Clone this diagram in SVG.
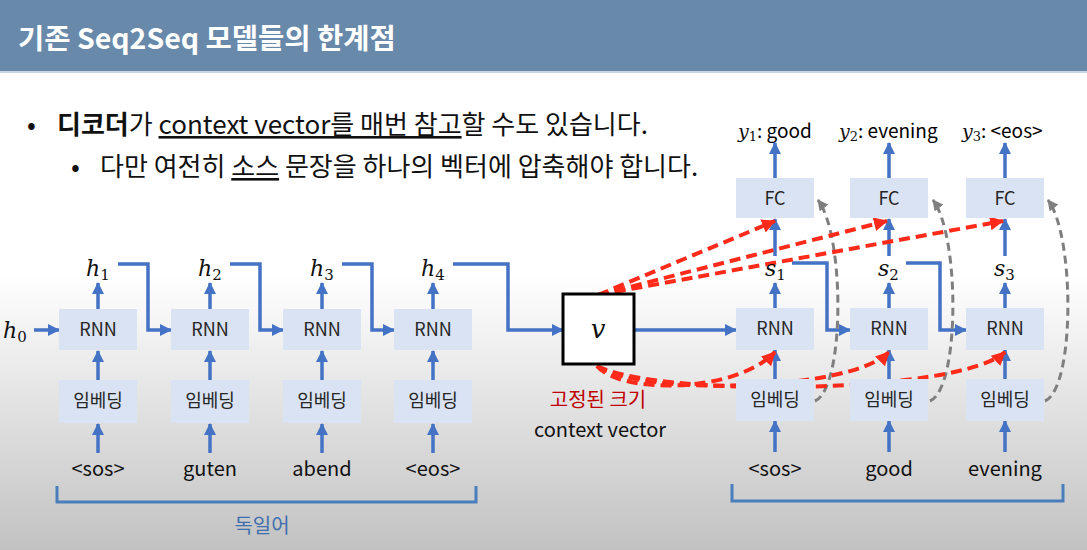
<svg xmlns="http://www.w3.org/2000/svg" width="1087" height="550" viewBox="0 0 1087 550">
<defs>
<linearGradient id="bg" x1="0" y1="0" x2="0" y2="550" gradientUnits="userSpaceOnUse">
<stop offset="0" stop-color="#ffffff"/>
<stop offset="0.5" stop-color="#ffffff"/>
<stop offset="1" stop-color="#c2c2c2"/>
</linearGradient>
<marker id="ab" markerUnits="userSpaceOnUse" markerWidth="12" markerHeight="12" refX="11" refY="6" orient="auto"><path d="M0,0 L12,6 L0,12 z" fill="#4472c4"/></marker>
<marker id="ar" markerUnits="userSpaceOnUse" markerWidth="14" markerHeight="14" refX="13" refY="7" orient="auto"><path d="M0,0 L14,7 L0,14 z" fill="#ff2a1a"/></marker>
<marker id="ag" markerUnits="userSpaceOnUse" markerWidth="11" markerHeight="11" refX="10" refY="5.5" orient="auto"><path d="M0,0 L11,5.5 L0,11 z" fill="#7f7f7f"/></marker>
<style>
.k{font-family:"Noto Sans CJK KR","Noto Sans",sans-serif}
.box{fill:#dae3f3}
.bt{font-family:"Noto Sans CJK KR","Noto Sans",sans-serif;font-size:18px;fill:#262626;text-anchor:middle}
.in{font-family:"Noto Sans CJK KR","Noto Sans",sans-serif;font-size:20px;fill:#111;text-anchor:middle}
.m{font-family:"DejaVu Serif","Liberation Serif",serif;font-style:italic;fill:#111}
.sub{font-family:"DejaVu Serif","Liberation Serif",serif;font-style:normal;fill:#111}
.ba{stroke:#4472c4;stroke-width:3.5;fill:none;marker-end:url(#ab)}
.rd{stroke:#ff2a1a;stroke-width:4;fill:none;stroke-dasharray:11 6;marker-end:url(#ar)}
.gd{stroke:#7f7f7f;stroke-width:3;fill:none;stroke-dasharray:8 5;marker-end:url(#ag)}
.br{stroke:#4a7ebb;stroke-width:3;fill:none}
</style>
</defs>
<rect x="0" y="0" width="1087" height="550" fill="url(#bg)"/>
<g id="title">
<rect x="0" y="0" width="1087" height="71" fill="#6889aa"/>
<rect x="0" y="71" width="1087" height="2" fill="#c8d5e4"/>
<text x="18" y="49" class="k" font-size="28.5" font-weight="bold" fill="#ffffff">기존 Seq2Seq 모델들의 한계점</text>
</g>
<g id="bullets" class="k" font-size="26" fill="#111">
<text x="27" y="134">•</text>
<text x="57" y="134"><tspan font-weight="bold">디코더</tspan>가 <tspan text-decoration="underline">context vector를 매번 참고</tspan>할 수도 있습니다.</text>
<text x="71" y="176">•</text>
<text x="100" y="176">다만 여전히 <tspan text-decoration="underline">소스</tspan> 문장을 하나의 벡터에 압축해야 합니다.</text>
</g>
<g id="connectors">
<line class="ba" x1="34" y1="330" x2="59" y2="330"/>
<line class="ba" x1="98" y1="453" x2="98" y2="424"/>
<line class="ba" x1="210" y1="453" x2="210" y2="424"/>
<line class="ba" x1="322" y1="453" x2="322" y2="424"/>
<line class="ba" x1="433" y1="453" x2="433" y2="424"/>
<line class="ba" x1="98" y1="380" x2="98" y2="351"/>
<line class="ba" x1="210" y1="380" x2="210" y2="351"/>
<line class="ba" x1="322" y1="380" x2="322" y2="351"/>
<line class="ba" x1="433" y1="380" x2="433" y2="351"/>
<line class="ba" x1="98" y1="309" x2="98" y2="283"/>
<line class="ba" x1="210" y1="309" x2="210" y2="283"/>
<line class="ba" x1="322" y1="309" x2="322" y2="283"/>
<line class="ba" x1="433" y1="309" x2="433" y2="283"/>
<polyline class="ba" points="118,264 148,264 148,330 171,330"/>
<polyline class="ba" points="230,264 260,264 260,330 283,330"/>
<polyline class="ba" points="342,264 372,264 372,330 394,330"/>
<polyline class="ba" points="453,264 508,264 508,330 563,330"/>
<line class="ba" x1="634" y1="330" x2="736" y2="330"/>
<line class="ba" x1="775" y1="452" x2="775" y2="421"/>
<line class="ba" x1="889" y1="452" x2="889" y2="421"/>
<line class="ba" x1="1005" y1="452" x2="1005" y2="421"/>
<line class="ba" x1="775" y1="379" x2="775" y2="350"/>
<line class="ba" x1="889" y1="379" x2="889" y2="350"/>
<line class="ba" x1="1005" y1="379" x2="1005" y2="350"/>
<line class="ba" x1="775" y1="308" x2="775" y2="283"/>
<line class="ba" x1="889" y1="308" x2="889" y2="283"/>
<line class="ba" x1="1005" y1="308" x2="1005" y2="283"/>
<line class="ba" x1="775" y1="256" x2="775" y2="219"/>
<line class="ba" x1="889" y1="256" x2="889" y2="219"/>
<line class="ba" x1="1005" y1="256" x2="1005" y2="219"/>
<line class="ba" x1="775" y1="178" x2="775" y2="143"/>
<line class="ba" x1="889" y1="178" x2="889" y2="143"/>
<line class="ba" x1="1005" y1="178" x2="1005" y2="143"/>
<polyline class="ba" points="792,263 827,263 827,330 850,330"/>
<polyline class="ba" points="906,263 940,263 940,330 966,330"/>
<path class="gd" d="M815,401 C845,388 845,236 818,200"/>
<path class="gd" d="M930,401 C960,388 960,236 933,200"/>
<path class="gd" d="M1045,401 C1075,388 1075,236 1048,200"/>
<line class="rd" x1="598" y1="295" x2="775" y2="221"/>
<line class="rd" x1="598" y1="295" x2="887" y2="221"/>
<line class="rd" x1="598" y1="295" x2="1003" y2="221"/>
<path class="rd" d="M597,366 C620,394 735,394 775,352"/>
<path class="rd" d="M597,366 C640,396 850,392 889,352"/>
<path class="rd" d="M597,366 C660,398 960,394 1005,352"/>
</g>
<g id="h0"><text x="3" y="338" class="m" font-size="22">h<tspan class="sub" font-size="15" dy="4">0</tspan></text></g>
<g id="enc1">
<text x="86" y="276" class="m" font-size="22">h<tspan class="sub" font-size="15" dy="4">1</tspan></text>
<rect class="box" x="59" y="309" width="78" height="41"/><text class="bt" x="98" y="336">RNN</text>
<rect class="box" x="59" y="380" width="78" height="43"/><text class="bt" x="98" y="407">임베딩</text>
<text class="in" x="98" y="476">&lt;sos&gt;</text>
</g>
<g id="enc2">
<text x="198" y="276" class="m" font-size="22">h<tspan class="sub" font-size="15" dy="4">2</tspan></text>
<rect class="box" x="171" y="309" width="78" height="41"/><text class="bt" x="210" y="336">RNN</text>
<rect class="box" x="171" y="380" width="78" height="43"/><text class="bt" x="210" y="407">임베딩</text>
<text class="in" x="210" y="476">guten</text>
</g>
<g id="enc3">
<text x="310" y="276" class="m" font-size="22">h<tspan class="sub" font-size="15" dy="4">3</tspan></text>
<rect class="box" x="283" y="309" width="78" height="41"/><text class="bt" x="322" y="336">RNN</text>
<rect class="box" x="283" y="380" width="78" height="43"/><text class="bt" x="322" y="407">임베딩</text>
<text class="in" x="322" y="476">abend</text>
</g>
<g id="enc4">
<text x="421" y="276" class="m" font-size="22">h<tspan class="sub" font-size="15" dy="4">4</tspan></text>
<rect class="box" x="394" y="309" width="78" height="41"/><text class="bt" x="433" y="336">RNN</text>
<rect class="box" x="394" y="380" width="78" height="43"/><text class="bt" x="433" y="407">임베딩</text>
<text class="in" x="433" y="476">&lt;eos&gt;</text>
</g>
<g id="enc-bracket">
<polyline class="br" points="57,486 57,502 476,502 476,486"/>
<text x="262" y="533" class="k" font-size="20" fill="#3f6fae" text-anchor="middle">독일어</text>
</g>
<g id="context">
<rect x="563" y="294" width="71" height="70" fill="#ffffff" stroke="#000" stroke-width="3"/>
<text x="598" y="338" class="m" font-size="26" text-anchor="middle">v</text>
<text x="598" y="407" class="k" font-size="20" fill="#c00000" text-anchor="middle">고정된 크기</text>
<text x="600" y="437" class="k" font-size="20" fill="#111" text-anchor="middle">context vector</text>
</g>
<g id="dec1">
<text x="738" y="138"><tspan class="m" font-size="19">y</tspan><tspan class="sub" font-size="13" dy="3">1</tspan><tspan class="k" font-size="19" dy="-3">: good</tspan></text>
<rect class="box" x="736" y="178" width="78" height="40"/><text class="bt" x="775" y="205">FC</text>
<text x="765" y="276" class="m" font-size="22">s<tspan class="sub" font-size="15" dy="4">1</tspan></text>
<rect class="box" x="736" y="308" width="78" height="42"/><text class="bt" x="775" y="335">RNN</text>
<rect class="box" x="736" y="379" width="78" height="42"/><text class="bt" x="775" y="406">임베딩</text>
<text class="in" x="775" y="476">&lt;sos&gt;</text>
</g>
<g id="dec2">
<text x="839" y="138"><tspan class="m" font-size="19">y</tspan><tspan class="sub" font-size="13" dy="3">2</tspan><tspan class="k" font-size="19" dy="-3">: evening</tspan></text>
<rect class="box" x="850" y="178" width="78" height="40"/><text class="bt" x="889" y="205">FC</text>
<text x="878" y="276" class="m" font-size="22">s<tspan class="sub" font-size="15" dy="4">2</tspan></text>
<rect class="box" x="850" y="308" width="78" height="42"/><text class="bt" x="889" y="335">RNN</text>
<rect class="box" x="850" y="379" width="78" height="42"/><text class="bt" x="889" y="406">임베딩</text>
<text class="in" x="889" y="476">good</text>
</g>
<g id="dec3">
<text x="962" y="138"><tspan class="m" font-size="19">y</tspan><tspan class="sub" font-size="13" dy="3">3</tspan><tspan class="k" font-size="19" dy="-3">: &lt;eos&gt;</tspan></text>
<rect class="box" x="966" y="178" width="78" height="40"/><text class="bt" x="1005" y="205">FC</text>
<text x="994" y="276" class="m" font-size="22">s<tspan class="sub" font-size="15" dy="4">3</tspan></text>
<rect class="box" x="966" y="308" width="78" height="42"/><text class="bt" x="1005" y="335">RNN</text>
<rect class="box" x="966" y="379" width="78" height="42"/><text class="bt" x="1005" y="406">임베딩</text>
<text class="in" x="1005" y="476">evening</text>
</g>
<g id="dec-bracket">
<polyline class="br" points="732,484 732,501 1063,501 1063,484"/>
</g>
</svg>
